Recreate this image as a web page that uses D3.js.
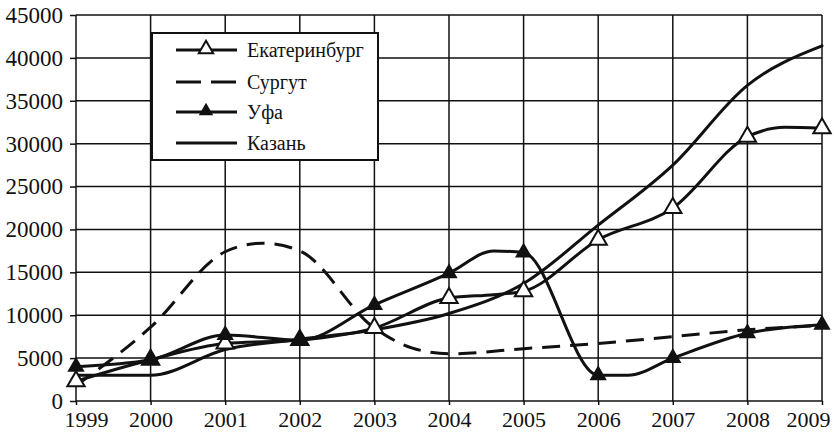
<!DOCTYPE html>
<html>
<head>
<meta charset="utf-8">
<script src="https://cdn.jsdelivr.net/npm/d3@7"></script>
</head>
<body style="margin:0">
<svg id="s" width="834" height="432" font-family="Liberation Serif"></svg>
<script>
// Years on the horizontal axis and value ticks on the vertical axis
const years = [1999, 2000, 2001, 2002, 2003, 2004, 2005, 2006, 2007, 2008, 2009];
const valueTicks = [0, 5000, 10000, 15000, 20000, 25000, 30000, 35000, 40000, 45000];

// Series: [year, value]; markers are drawn at whole years only
const ekaterinburg = [[1999, 2300], [2000, 4800], [2001, 6700], [2002, 7100], [2003, 8500],
  [2004, 12000], [2004.6, 12400], [2005, 12800], [2006, 18800], [2007, 22500],
  [2008, 30800], [2008.5, 31900], [2009, 31800]];
const surgut = [[1999, 1800], [2000, 8600], [2001, 17400], [2001.5, 18400], [2002, 17500],
  [2003, 8500], [2003.5, 6200], [2004, 5500], [2005, 6100], [2006, 6700],
  [2007, 7500], [2008, 8300], [2009, 8800]];
const ufa = [[1999, 4000], [2000, 4800], [2001, 7700], [2002, 7100], [2003, 11200],
  [2004, 14900], [2004.6, 17500], [2005, 17300], [2006, 3000], [2006.4, 3000],
  [2007, 5000], [2008, 7900], [2009, 8900]];
const kazan = [[1999, 3000], [2000, 3000], [2001, 6000], [2002, 7200], [2003, 8300],
  [2004, 10200], [2005, 13700], [2006, 20500], [2007, 27500], [2008, 36800], [2009, 41400]];

const seriesNames = ["Екатеринбург", "Сургут", "Уфа", "Казань"];

const plotLeft = 76, plotRight = 822, plotTop = 15, plotBottom = 401;
const svg = d3.select("#s");

const x = d3.scaleLinear().domain([1999, 2009]).range([plotLeft, plotRight]);
const y = d3.scaleLinear().domain([0, 45000]).range([plotBottom, plotTop]);

// Grid
const grid = svg.append("g").attr("stroke", "#111").attr("stroke-width", 1.5);
grid.selectAll("line.h").data(valueTicks).join("line")
  .attr("class", "h")
  .attr("x1", plotLeft).attr("x2", plotRight)
  .attr("y1", d => y(d)).attr("y2", d => y(d));
grid.selectAll("line.v").data(years).join("line")
  .attr("class", "v")
  .attr("x1", d => x(d)).attr("x2", d => x(d))
  .attr("y1", plotTop).attr("y2", plotBottom);

// Axes (the axis groups inherit the serif face from the svg root)
const yAxis = svg.append("g")
  .attr("transform", `translate(${plotLeft},0)`)
  .call(d3.axisLeft(y).tickValues(valueTicks).tickFormat(d3.format("d")).tickSize(6).tickPadding(7));
yAxis.attr("font-family", null).attr("font-size", 23);
yAxis.select(".domain").remove();
yAxis.selectAll(".tick line").attr("stroke", "#111").attr("stroke-width", 1.5);
yAxis.selectAll(".tick text").attr("fill", "#111");

const xAxis = svg.append("g")
  .attr("transform", `translate(0,${plotBottom})`)
  .call(d3.axisBottom(x).tickValues(years).tickFormat(d3.format("d")).tickSize(4).tickPadding(6));
xAxis.attr("font-family", null).attr("font-size", 22);
xAxis.select(".domain").remove();
xAxis.selectAll(".tick line").attr("stroke", "#111").attr("stroke-width", 1.5);
xAxis.selectAll(".tick text").attr("fill", "#111")
  .attr("dx", d => d === 1999 ? 10 : d === 2009 ? -14 : 0);

// Lines
const line = d3.line().x(d => x(d[0])).y(d => y(d[1])).curve(d3.curveMonotoneX);
const plot = svg.append("g").attr("fill", "none").attr("stroke", "#111")
  .attr("stroke-width", 3).attr("stroke-linejoin", "round").attr("stroke-linecap", "round");
plot.append("path").attr("d", line(kazan));
plot.append("path").attr("d", line(surgut)).attr("stroke-dasharray", "18,10").attr("stroke-linecap", "butt");
plot.append("path").attr("d", line(ekaterinburg));
plot.append("path").attr("d", line(ufa));

// Markers
const tri = d3.symbol(d3.symbolTriangle, 130);
const whole = d => Number.isInteger(d[0]);
svg.append("g").selectAll("path").data(ekaterinburg.filter(whole)).join("path")
  .attr("d", tri).attr("transform", d => `translate(${x(d[0])},${y(d[1])})`)
  .attr("fill", "#fff").attr("stroke", "#111").attr("stroke-width", 2);
svg.append("g").selectAll("path").data(ufa.filter(whole)).join("path")
  .attr("d", tri).attr("transform", d => `translate(${x(d[0])},${y(d[1])})`)
  .attr("fill", "#111");

// Legend
const lg = svg.append("g");
lg.append("rect").attr("x", 152).attr("y", 33).attr("width", 226).attr("height", 127)
  .attr("fill", "#fff").attr("stroke", "#111").attr("stroke-width", 2);
const rows = [50, 82, 112, 143];
const smallTri = d3.symbol(d3.symbolTriangle, 90);
seriesNames.forEach((name, i) => {
  const ry = rows[i];
  const l = lg.append("line").attr("x1", 176).attr("x2", 237).attr("y1", ry).attr("y2", ry)
    .attr("stroke", "#111").attr("stroke-width", 3);
  if (i === 1) l.attr("stroke-dasharray", "25,10");
  if (i === 0) lg.append("path").attr("d", smallTri).attr("transform", `translate(206,${ry - 1})`)
    .attr("fill", "#fff").attr("stroke", "#111").attr("stroke-width", 2);
  if (i === 2) lg.append("path").attr("d", smallTri).attr("transform", `translate(206,${ry - 1})`)
    .attr("fill", "#111");
  lg.append("text").attr("x", 247).attr("y", ry).attr("dy", "0.35em")
    .attr("font-size", 20).attr("fill", "#111").text(name);
});
</script>
</body>
</html>
